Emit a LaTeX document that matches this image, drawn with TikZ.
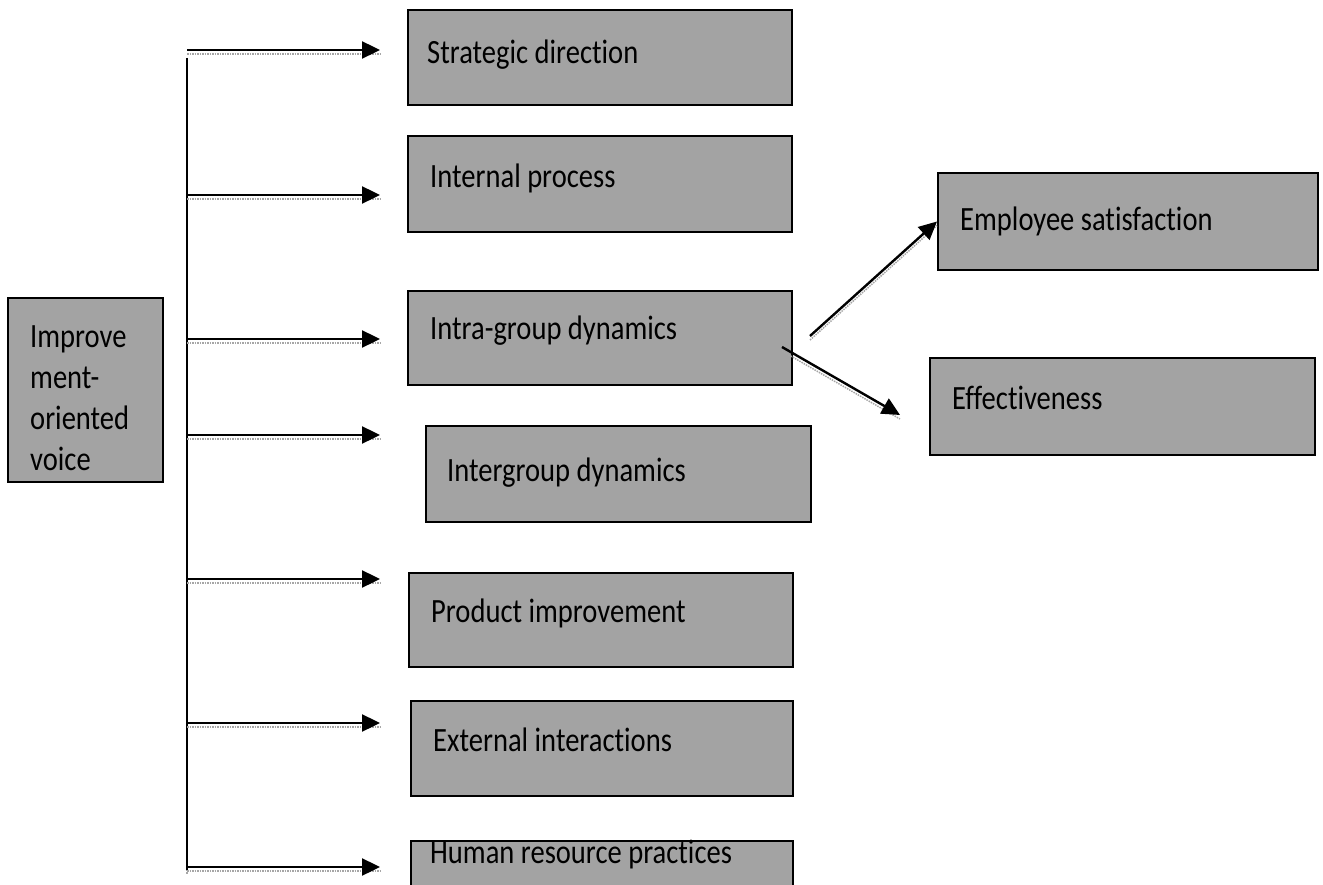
\documentclass[tikz,border=0pt]{standalone}
\usepackage{fontspec}
\setmainfont{Carlito}[FakeStretch=0.84, Ligatures={NoCommon}]
\usetikzlibrary{arrows.meta}
\newcommand\mkbox[5]{%
  \node[box, minimum width={#4pt-#2pt}, minimum height={#5pt-#3pt}] (#1) at ({(#2+#4)/2},{(#3+#5)/2}) {};}
\begin{document}
\begin{tikzpicture}[x=1pt,y=-1pt,
  box/.style={draw=black, line width=2pt, fill=black!36, inner sep=0pt},
  lbl/.style={anchor=base west, inner sep=0pt, font=\fontsize{34}{41}\selectfont},
  shadowline/.style={preaction={draw=black!35, densely dotted, line width=1.5pt, -, transform canvas={yshift=-4pt}}},
  conn/.style={draw=black, line width=2.4pt, -{Triangle[length=18pt,width=17pt]}, shadowline},
  spineline/.style={draw=black, line width=2.4pt}]
\clip (0,0) rectangle (1323,885);
% boxes
\mkbox{voice}{8}{298}{163}{482}
\mkbox{strat}{408}{10}{792}{105}
\mkbox{intp}{408}{136}{792}{232}
\mkbox{intra}{408}{291}{792}{385}
\mkbox{inter}{426}{426}{811}{522}
\mkbox{prod}{409}{573}{793}{667}
\mkbox{ext}{411}{701}{793}{796}
\mkbox{hrp}{411}{841}{793}{900}
\mkbox{emp}{938}{173}{1318}{270}
\mkbox{eff}{930}{358}{1315}{455}
% labels
\node[anchor=north west, inner sep=0pt, align=left, font=\fontsize{34}{41}\selectfont] (tvoice) at (30,325) {Improve\\ment-\\oriented\\voice};
\node[lbl] (tstrat) at (427,64) {Strategic direction};
\node[lbl] (tintp) at (430,188) {Internal process};
\node[lbl] (tintra) at (430,340) {Intra-group dynamics};
\node[lbl] (tinter) at (447,481) {Intergroup dynamics};
\node[lbl] (tprod) at (431,622) {Product improvement};
\node[lbl] (text) at (433,751) {External interactions};
\node[lbl] (thrp) at (430,863) {Human resource practices};
\node[lbl] (temp) at (960,231) {Employee satisfaction};
\node[lbl] (teff) at (952,409) {Effectiveness};
% spine
\coordinate (sptop) at (187,58);
\coordinate (spbot) at (187,870);
\draw[spineline, shadowline] (sptop) -- (spbot);
\foreach \i/\yy in {1/50,2/195,3/339,4/435,5/579,6/723,7/867}{
  \coordinate (a\i) at (187,\yy);
  \coordinate (b\i) at (380,\yy);
  \draw[conn] (a\i) -- (b\i);
}
% diagonal connectors
\coordinate (d1s) at (810,336);
\draw[conn] (d1s) -- (emp.west);
\coordinate (d2s) at (782,347);
\coordinate (d2e) at (900,415);
\draw[conn] (d2s) -- (d2e);
\end{tikzpicture}
\end{document}
